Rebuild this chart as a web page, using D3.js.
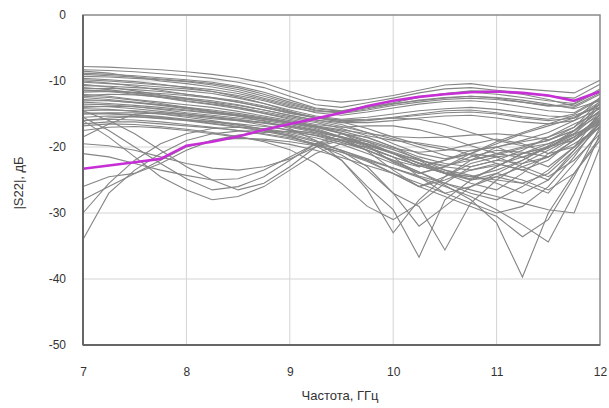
<!DOCTYPE html>
<html><head><meta charset="utf-8">
<script src="https://cdn.jsdelivr.net/npm/d3@7"></script>
<style>body{margin:0;background:#fff}text{font-family:"Liberation Sans",Arial,sans-serif}</style>
</head><body><svg id="c" width="609" height="408"></svg>
<script>
const freqs = [7,7.25,7.5,7.75,8,8.25,8.5,8.75,9,9.25,9.5,9.75,10,10.25,10.5,10.75,11,11.25,11.5,11.75,12];
const xTicks = [7,8,9,10,11,12];
const yTicks = [0,-10,-20,-30,-40,-50];
const xTitle = "Частота, ГГц";
const yTitle = "|S22|, дБ";

const highlight = [-23.3,-22.8,-22.3,-21.8,-19.8,-19.2,-18.4,-17.4,-16.5,-15.7,-14.8,-13.8,-13.0,-12.4,-12.0,-11.7,-11.6,-11.8,-12.2,-13.0,-11.6];

const topBand = [
[-7.8,-7.9,-8.1,-8.3,-8.6,-9.0,-9.5,-10.3,-11.6,-12.8,-13.2,-12.8,-12.2,-11.4,-10.6,-10.4,-10.9,-11.2,-11.5,-11.8,-9.9],
[-8.3,-8.4,-8.6,-8.9,-9.2,-9.6,-10.2,-11.0,-12.3,-13.6,-14.0,-13.3,-12.6,-11.8,-11.2,-11.0,-11.4,-11.8,-12.3,-12.6,-10.5],
[-8.8,-9.0,-9.2,-9.5,-9.8,-10.2,-10.8,-11.7,-12.9,-14.1,-14.5,-13.8,-13.0,-12.4,-11.9,-11.7,-12.0,-12.5,-13.0,-13.4,-11.2],
[-9.3,-9.4,-9.6,-9.8,-10.1,-10.6,-11.3,-12.3,-13.4,-14.4,-14.9,-14.4,-13.7,-13.2,-12.8,-12.6,-12.8,-13.2,-13.7,-14.0,-12.0],
[-9.8,-10.0,-10.3,-10.6,-10.9,-11.3,-11.9,-12.8,-13.8,-14.8,-15.2,-14.7,-14.1,-13.5,-13.1,-13.0,-13.3,-13.9,-14.5,-14.8,-12.6],
[-10.2,-10.4,-10.6,-10.9,-11.2,-11.6,-12.2,-13.0,-14.0,-14.7,-14.6,-14.0,-13.4,-13.0,-12.6,-12.3,-12.6,-13.2,-13.8,-13.5,-11.5],
[-10.7,-10.8,-11.0,-11.2,-11.5,-11.9,-12.6,-13.4,-14.4,-15.3,-15.8,-15.5,-15.0,-14.5,-14.2,-14.0,-14.3,-14.8,-15.3,-15.5,-13.2],
[-11.2,-11.1,-11.3,-11.6,-12.0,-12.5,-13.0,-13.8,-14.7,-15.5,-16.0,-15.9,-15.5,-15.0,-14.5,-14.4,-14.8,-15.4,-15.8,-15.0,-12.8],
[-8.5,-8.8,-9.4,-10.0,-10.4,-10.9,-11.6,-12.6,-13.6,-14.5,-14.8,-14.2,-13.5,-12.9,-12.5,-12.3,-12.5,-12.9,-13.5,-14.2,-13.0],
[-9.0,-9.2,-9.4,-9.7,-10.0,-10.4,-11.0,-12.0,-13.2,-14.2,-14.6,-14.0,-13.3,-12.5,-11.9,-11.5,-11.6,-12.0,-12.8,-13.8,-11.8],
[-11.7,-11.6,-11.7,-11.9,-12.2,-12.6,-13.2,-14.0,-14.9,-15.6,-15.9,-15.8,-15.6,-15.2,-14.8,-14.7,-15.0,-15.6,-16.0,-15.6,-13.6],
[-12.2,-12.0,-12.1,-12.4,-12.8,-13.2,-13.7,-14.4,-15.2,-15.9,-16.3,-16.3,-16.0,-15.6,-15.3,-15.2,-15.6,-16.2,-16.5,-16.0,-14.2]
];

const midBand = [
[-10.5,-10.9,-11.5,-12.1,-12.6,-13.0,-13.6,-14.4,-15.2,-15.9,-16.6,-17.8,-19.5,-21.0,-21.8,-21.0,-19.5,-18.0,-16.8,-15.6,-13.5],
[-12.0,-12.3,-12.8,-13.2,-13.6,-14.0,-14.6,-15.3,-16.0,-16.8,-17.9,-19.8,-22.3,-24.0,-23.0,-21.0,-19.2,-17.8,-16.5,-15.2,-14.0],
[-13.0,-13.0,-13.3,-13.6,-14.0,-14.4,-14.9,-15.5,-16.2,-17.0,-18.0,-19.2,-20.4,-21.8,-23.5,-25.0,-24.0,-22.0,-19.8,-17.5,-15.2],
[-11.5,-11.6,-12.0,-12.5,-13.1,-13.6,-14.2,-14.9,-15.6,-16.3,-17.2,-18.3,-19.0,-19.4,-20.0,-21.2,-22.5,-23.5,-22.0,-18.8,-15.8],
[-14.0,-13.8,-13.9,-14.2,-14.5,-14.9,-15.3,-15.8,-16.4,-17.2,-18.5,-20.6,-23.5,-26.0,-24.5,-22.0,-20.0,-19.2,-18.5,-17.0,-13.0],
[-13.5,-13.6,-13.9,-14.3,-14.8,-15.2,-15.6,-16.0,-16.6,-17.4,-18.4,-19.6,-21.0,-22.4,-23.5,-24.3,-25.5,-27.0,-25.0,-20.5,-16.5],
[-15.0,-14.8,-14.8,-15.0,-15.3,-15.7,-16.0,-16.4,-17.0,-17.8,-19.0,-20.5,-22.2,-23.8,-25.5,-27.0,-28.0,-26.0,-23.5,-20.0,-17.0],
[-12.5,-12.8,-13.2,-13.6,-14.1,-14.6,-15.1,-15.6,-16.2,-16.8,-17.4,-18.0,-18.4,-18.6,-18.5,-18.2,-18.0,-18.3,-18.9,-17.5,-14.5],
[-16.0,-15.6,-15.4,-15.6,-15.9,-16.2,-16.5,-16.9,-17.4,-18.0,-19.0,-20.5,-22.0,-23.0,-22.0,-21.0,-21.5,-23.0,-24.5,-22.0,-18.0],
[-10.0,-10.3,-10.8,-11.4,-12.0,-12.5,-13.2,-14.0,-14.8,-15.5,-16.2,-17.2,-18.5,-19.6,-20.4,-20.6,-20.0,-19.0,-17.8,-16.0,-12.5],
[-14.5,-14.4,-14.5,-14.8,-15.2,-15.5,-15.9,-16.3,-16.8,-17.5,-18.6,-20.0,-21.5,-22.8,-24.0,-24.8,-23.0,-21.0,-20.0,-19.0,-16.0],
[-13.2,-13.4,-13.7,-14.0,-14.4,-14.8,-15.3,-15.8,-16.4,-17.0,-17.9,-19.0,-20.2,-20.8,-20.5,-19.6,-18.8,-19.5,-21.0,-20.0,-15.0],
[-11.0,-11.3,-11.8,-12.4,-13.0,-13.5,-14.0,-14.7,-15.4,-16.1,-16.9,-17.8,-18.8,-20.0,-21.3,-22.0,-21.2,-20.2,-19.5,-18.0,-13.8],
[-12.8,-13.0,-13.3,-13.7,-14.2,-14.7,-15.2,-15.7,-16.3,-16.9,-17.6,-18.6,-20.0,-21.5,-22.5,-23.0,-22.0,-20.5,-18.5,-16.5,-14.8],
[-9.6,-9.8,-10.1,-10.5,-11.0,-11.6,-12.4,-13.4,-14.6,-15.6,-16.2,-16.0,-15.6,-15.8,-16.6,-17.8,-19.0,-19.8,-19.0,-17.0,-14.0],
[-11.4,-11.5,-11.8,-12.2,-12.7,-13.3,-14.0,-14.9,-15.8,-16.6,-17.0,-16.8,-16.8,-17.4,-18.4,-19.8,-21.0,-21.6,-20.2,-17.6,-13.4]
];

const deepBand = [
[-14.2,-14.3,-14.6,-15.0,-15.5,-16.0,-16.6,-17.3,-18.3,-19.8,-22.0,-26.0,-29.5,-36.7,-28.0,-25.0,-23.0,-21.0,-19.5,-18.0,-16.5],
[-15.5,-15.3,-15.4,-15.7,-16.0,-16.5,-17.0,-17.6,-18.4,-19.6,-21.2,-23.5,-27.0,-29.0,-35.6,-28.5,-25.0,-22.5,-20.5,-18.5,-16.0],
[-13.8,-13.9,-14.2,-14.6,-15.0,-15.5,-16.0,-16.7,-17.5,-18.3,-19.3,-20.5,-22.0,-23.8,-25.8,-28.0,-31.5,-39.7,-30.0,-24.0,-18.5],
[-16.5,-16.2,-16.2,-16.5,-16.8,-17.1,-17.5,-18.0,-18.6,-19.5,-20.5,-21.8,-23.2,-24.6,-26.0,-27.5,-29.5,-31.8,-34.4,-27.0,-18.0],
[-15.0,-15.0,-15.2,-15.5,-15.9,-16.4,-16.9,-17.5,-18.2,-19.2,-20.5,-22.0,-24.0,-26.0,-27.5,-29.0,-30.5,-33.6,-31.0,-24.5,-17.0],
[-12.3,-12.5,-12.9,-13.4,-14.0,-14.6,-15.3,-16.1,-17.2,-19.0,-22.0,-26.5,-33.0,-28.0,-24.5,-22.5,-21.5,-21.0,-20.0,-18.5,-15.5],
[-16.8,-16.5,-16.6,-16.9,-17.3,-17.8,-18.4,-19.2,-20.4,-22.5,-25.5,-29.0,-31.0,-28.5,-25.5,-23.0,-22.0,-22.5,-21.5,-19.5,-17.0],
[-14.8,-14.9,-15.1,-15.4,-15.8,-16.2,-16.7,-17.3,-18.0,-19.0,-20.6,-23.0,-27.0,-32.0,-29.0,-26.0,-24.0,-25.0,-26.5,-24.0,-19.0],
[-17.5,-17.0,-16.9,-17.1,-17.5,-18.0,-18.5,-19.0,-19.6,-20.5,-21.6,-22.8,-24.0,-25.5,-27.0,-28.5,-30.0,-29.0,-26.0,-21.5,-16.2],
[-16.0,-15.8,-15.9,-16.2,-16.6,-17.0,-17.5,-18.1,-18.8,-19.7,-20.8,-22.0,-23.2,-24.4,-25.5,-26.5,-27.5,-28.5,-29.5,-30.0,-20.0]
];

const lowStart = [
[-15.5,-17.5,-20.0,-22.5,-24.8,-26.5,-26.0,-24.5,-22.0,-19.5,-18.0,-18.5,-20.0,-22.0,-24.0,-25.5,-26.5,-24.0,-21.0,-18.5,-15.5],
[-14.5,-16.0,-18.0,-20.5,-23.0,-25.0,-26.5,-25.5,-23.0,-20.0,-18.5,-19.2,-21.0,-23.0,-22.0,-20.5,-20.0,-21.5,-23.0,-20.0,-16.5],
[-16.0,-18.5,-21.5,-24.5,-26.5,-28.0,-27.5,-26.0,-23.5,-21.0,-19.5,-20.0,-21.5,-24.5,-27.0,-26.0,-24.5,-25.5,-27.0,-22.5,-17.5],
[-34.0,-27.0,-23.5,-21.0,-19.0,-18.0,-17.6,-17.5,-17.7,-18.2,-19.0,-20.2,-21.5,-22.8,-24.0,-24.5,-23.5,-22.0,-20.0,-18.2,-15.8],
[-30.0,-25.5,-22.0,-19.5,-18.0,-17.2,-17.0,-17.2,-17.8,-18.6,-19.6,-21.0,-22.5,-24.0,-23.0,-21.5,-20.5,-20.8,-21.5,-19.0,-15.0],
[-26.0,-24.5,-24.0,-22.5,-20.5,-19.0,-18.2,-17.8,-17.6,-17.8,-18.5,-19.5,-20.8,-22.0,-23.0,-23.5,-22.8,-21.5,-20.0,-18.0,-14.8],
[-21.0,-21.5,-22.5,-23.5,-24.3,-25.0,-24.8,-23.5,-21.5,-19.5,-18.8,-19.5,-21.0,-22.5,-24.0,-25.0,-24.5,-23.0,-21.5,-19.0,-16.2],
[-18.5,-16.5,-15.0,-14.8,-15.0,-15.4,-15.8,-16.3,-16.9,-17.6,-18.5,-19.8,-21.0,-22.0,-22.8,-22.0,-21.0,-20.0,-19.0,-17.5,-14.5],
[-28.0,-26.0,-24.0,-22.0,-20.0,-19.0,-18.7,-18.8,-19.2,-19.8,-20.8,-22.2,-24.0,-26.0,-25.0,-23.5,-22.5,-23.5,-25.0,-21.0,-16.8],
[-19.5,-19.8,-20.5,-21.5,-22.5,-23.2,-23.5,-23.0,-21.8,-20.0,-19.0,-19.6,-21.0,-22.5,-23.8,-24.5,-25.0,-25.5,-24.0,-20.5,-16.0]
];

const svg = d3.select("#c");
const m = {l:83, r:9, t:15, b:63};
const W = 609 - m.l - m.r, H = 408 - m.t - m.b;
const x = d3.scaleLinear().domain([7,12]).range([m.l, m.l+W]);
const y = d3.scaleLinear().domain([-50,0]).range([m.t+H, m.t]);

// grid
svg.append("g").selectAll("line").data(xTicks.slice(1,-1)).join("line")
  .attr("x1",d=>x(d)).attr("x2",d=>x(d)).attr("y1",m.t).attr("y2",m.t+H)
  .attr("stroke","#d4d4d4").attr("stroke-width",1);
svg.append("g").selectAll("line").data(yTicks.slice(1,-1)).join("line")
  .attr("y1",d=>y(d)).attr("y2",d=>y(d)).attr("x1",m.l).attr("x2",m.l+W)
  .attr("stroke","#d4d4d4").attr("stroke-width",1);

const line = d3.line().x((d,i)=>x(freqs[i])).y(d=>y(d));
const grays = [].concat(topBand, midBand, deepBand, lowStart);
svg.append("g").selectAll("path").data(grays).join("path")
  .attr("d", line).attr("fill","none").attr("stroke","#858585").attr("stroke-width",1.1);

svg.append("path").datum(highlight).attr("d", line).attr("fill","none")
  .attr("stroke","#c72fd6").attr("stroke-width",2.6);

// frame
svg.append("rect").attr("x",m.l).attr("y",m.t).attr("width",W).attr("height",H)
  .attr("fill","none").attr("stroke","#8a8a8a").attr("stroke-width",1.5);
svg.append("line").attr("x1",m.l).attr("x2",m.l).attr("y1",m.t).attr("y2",m.t+H).attr("stroke","#666").attr("stroke-width",2);
svg.append("line").attr("x1",m.l).attr("x2",m.l+W).attr("y1",m.t+H).attr("y2",m.t+H).attr("stroke","#666").attr("stroke-width",2);

// axes
const xa = svg.append("g").attr("transform",`translate(0,${m.t+H})`)
  .call(d3.axisBottom(x).tickValues(xTicks).tickSize(0).tickPadding(22).tickFormat(d=>String(d)));
const ya = svg.append("g").attr("transform",`translate(${m.l},0)`)
  .call(d3.axisLeft(y).tickValues(yTicks).tickSize(0).tickPadding(17).tickFormat(d=>String(d)));
[xa,ya].forEach(a=>{a.select(".domain").remove();a.selectAll("text").attr("font-size",12).attr("fill","#333").attr("font-family","Liberation Sans, Arial, sans-serif");});

svg.append("text").attr("x",340).attr("y",400).attr("text-anchor","middle")
  .attr("font-size",13).attr("fill","#333").text(xTitle);
svg.append("text").attr("transform","translate(23,183) rotate(-90)").attr("text-anchor","middle")
  .attr("font-size",13).attr("fill","#333").text(yTitle);
</script></body></html>
